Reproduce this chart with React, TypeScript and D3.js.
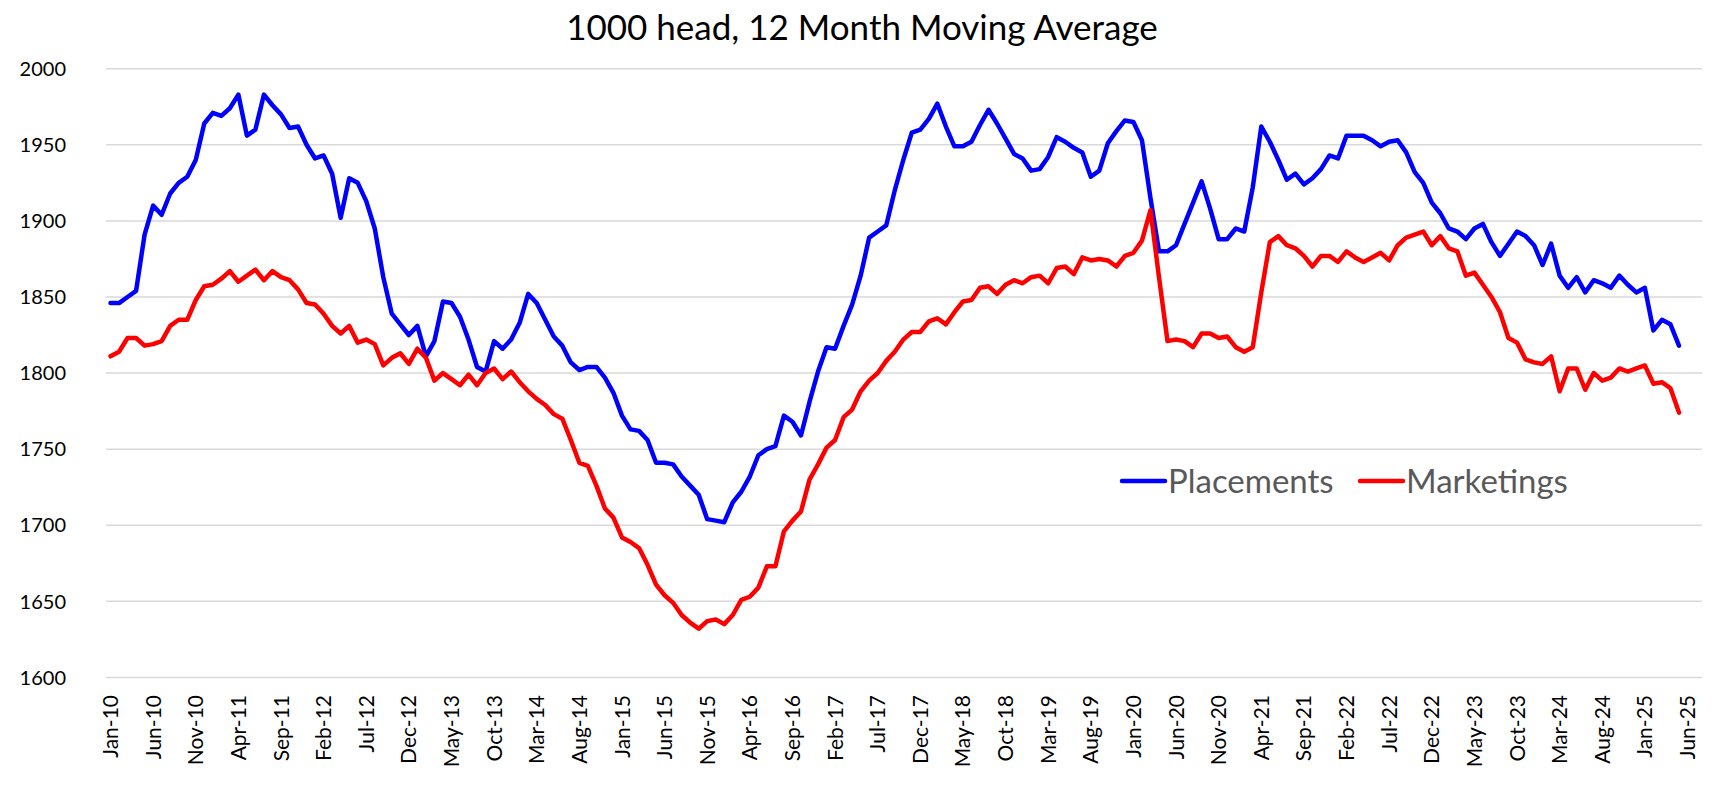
import { useEffect, useRef } from 'react'
import * as d3 from 'd3'

// 12 month moving average, 1000 head, monthly from Jan-10 to May-25
const placements = [
  1846, 1846, 1850, 1854, 1891, 1910, 1904, 1918, 1925, 1929, 1940, 1964,
  1971, 1969, 1974, 1983, 1956, 1960, 1983, 1976, 1970, 1961, 1962, 1950,
  1941, 1943, 1931, 1902, 1928, 1925, 1913, 1895, 1863, 1839, 1832, 1825,
  1831, 1811, 1821, 1847, 1846, 1837, 1822, 1804, 1801, 1821, 1816, 1822,
  1833, 1852, 1846, 1835, 1824, 1818, 1807, 1802, 1804, 1804, 1797, 1787,
  1772, 1763, 1762, 1756, 1741, 1741, 1740, 1732, 1726, 1720, 1704, 1703,
  1702, 1715, 1722, 1732, 1746, 1750, 1752, 1772, 1768, 1759, 1781, 1801,
  1817, 1816, 1831, 1845, 1864, 1889, 1893, 1897, 1920, 1940, 1958, 1960,
  1967, 1977, 1962, 1949, 1949, 1952, 1963, 1973, 1964, 1954, 1944, 1941,
  1933, 1934, 1942, 1955, 1952, 1948, 1945, 1929, 1933, 1951, 1959, 1966,
  1965, 1953, 1915, 1880, 1880, 1884, 1898, 1912, 1926, 1908, 1888, 1888,
  1895, 1893, 1922, 1962, 1952, 1940, 1927, 1931, 1924, 1928, 1934, 1943,
  1941, 1956, 1956, 1956, 1953, 1949, 1952, 1953, 1945, 1932, 1925, 1912,
  1905, 1895, 1893, 1888, 1895, 1898, 1886, 1877, 1885, 1893, 1890, 1884,
  1871, 1885, 1864, 1856, 1863, 1853, 1861, 1859, 1856, 1864, 1858, 1853,
  1856, 1828, 1835, 1832, 1818
]

const marketings = [
  1811, 1814, 1823, 1823, 1818, 1819, 1821, 1831, 1835, 1835, 1848, 1857,
  1858, 1862, 1867, 1860, 1864, 1868, 1861, 1867, 1863, 1861, 1855, 1846,
  1845, 1839, 1831, 1826, 1831, 1820, 1822, 1819, 1805, 1810, 1813, 1806,
  1816, 1810, 1795, 1800, 1796, 1792, 1799, 1792, 1800, 1803, 1796, 1801,
  1794, 1788, 1783, 1779, 1773, 1770, 1756, 1741, 1739, 1726, 1711, 1705,
  1692, 1689, 1685, 1674, 1661, 1654, 1649, 1641, 1636, 1632, 1637, 1638,
  1635, 1641, 1651, 1653, 1659, 1673, 1673, 1696, 1703, 1709, 1730, 1740,
  1751, 1756, 1771, 1776, 1788, 1795, 1800, 1808, 1814, 1822, 1827, 1827,
  1834, 1836, 1832, 1840, 1847, 1848, 1856, 1857, 1852, 1858, 1861, 1859,
  1863, 1864, 1859, 1869, 1870, 1865, 1876, 1874, 1875, 1874, 1870, 1877,
  1879, 1887, 1907, 1863, 1821, 1822, 1821, 1817, 1826, 1826, 1823, 1824,
  1817, 1814, 1817, 1853, 1886, 1890, 1884, 1882, 1877, 1870, 1877, 1877,
  1873, 1880, 1876, 1873, 1876, 1879, 1874, 1884, 1889, 1891, 1893, 1884,
  1890, 1882, 1880, 1864, 1866, 1858, 1850, 1840, 1823, 1820, 1809, 1807,
  1806, 1811, 1788, 1803, 1803, 1789, 1800, 1795, 1797, 1803, 1801, 1803,
  1805, 1793, 1794, 1790, 1774
]

// one label every 5 months
const xTickLabels = [
  'Jan-10', 'Jun-10', 'Nov-10', 'Apr-11', 'Sep-11', 'Feb-12', 'Jul-12', 'Dec-12',
  'May-13', 'Oct-13', 'Mar-14', 'Aug-14', 'Jan-15', 'Jun-15', 'Nov-15', 'Apr-16',
  'Sep-16', 'Feb-17', 'Jul-17', 'Dec-17', 'May-18', 'Oct-18', 'Mar-19', 'Aug-19',
  'Jan-20', 'Jun-20', 'Nov-20', 'Apr-21', 'Sep-21', 'Feb-22', 'Jul-22', 'Dec-22',
  'May-23', 'Oct-23', 'Mar-24', 'Aug-24', 'Jan-25', 'Jun-25'
]

const yTicks = [1600, 1650, 1700, 1750, 1800, 1850, 1900, 1950, 2000]

const seriesNames = ['Placements', 'Marketings']
const seriesColors = ['#0000FF', '#FF0000']

const FONT = 'Lato, "Open Sans", sans-serif'

function MovingAverageChart({ width = 1724, height = 794 }) {
  const svgRef = useRef<SVGSVGElement>(null)

  useEffect(() => {
    if (!svgRef.current) return
    const svg = d3.select(svgRef.current)
    svg.selectAll('*').remove()

    const plot = { left: 106, right: 1702, top: 68.7, bottom: 677.4 }

    const x = d3.scaleLinear()
      .domain([0, (xTickLabels.length - 1) * 5])
      .range([110.5, 1687.5])

    const y = d3.scaleLinear()
      .domain([1600, 2000])
      .range([plot.bottom, plot.top])

    // Gridlines
    yTicks.forEach(t => {
      svg.append('line')
        .attr('x1', plot.left)
        .attr('x2', plot.right)
        .attr('y1', y(t))
        .attr('y2', y(t))
        .style('stroke', '#D9D9D9')
        .style('stroke-width', '1.5px')
    })

    // Y labels
    yTicks.forEach(t => {
      svg.append('text')
        .attr('x', 66)
        .attr('y', y(t))
        .attr('dy', '0.36em')
        .attr('text-anchor', 'end')
        .style('fill', '#000')
        .style('font-size', '20px')
        .style('font-family', FONT)
        .text(t)
    })

    // X labels, rotated
    xTickLabels.forEach((label, i) => {
      svg.append('text')
        .attr('transform', `translate(${x(i * 5)},695) rotate(-90)`)
        .attr('dy', '0.36em')
        .attr('text-anchor', 'end')
        .style('fill', '#000')
        .style('font-size', '21px')
        .style('font-family', FONT)
        .text(label)
    })

    // Lines
    const line = d3.line<number>()
      .x((_, i) => x(i))
      .y(d => y(d))

    ;[placements, marketings].forEach((values, s) => {
      svg.append('path')
        .datum(values)
        .attr('d', line)
        .style('fill', 'none')
        .style('stroke', seriesColors[s])
        .style('stroke-width', '4.5px')
        .style('stroke-linejoin', 'round')
        .style('stroke-linecap', 'round')
    })

    // Title
    svg.append('text')
      .attr('x', 862)
      .attr('y', 40)
      .attr('text-anchor', 'middle')
      .style('fill', '#000')
      .style('font-size', '35px')
      .style('font-family', FONT)
      .text('1000 head, 12 Month Moving Average')

    // Legend
    const legendItems = [
      { name: seriesNames[0], color: seriesColors[0], x: 1122 },
      { name: seriesNames[1], color: seriesColors[1], x: 1360 }
    ]
    legendItems.forEach(item => {
      svg.append('line')
        .attr('x1', item.x)
        .attr('x2', item.x + 43)
        .attr('y1', 481)
        .attr('y2', 481)
        .style('stroke', item.color)
        .style('stroke-width', '4.5px')
        .style('stroke-linecap', 'round')

      svg.append('text')
        .attr('x', item.x + 46)
        .attr('y', 481)
        .attr('dy', '0.36em')
        .style('fill', '#595959')
        .style('font-size', '33px')
        .style('font-family', FONT)
        .text(item.name)
    })
  }, [width, height])

  return (
    <svg
      ref={svgRef}
      width={width}
      height={height}
      style={{ position: 'absolute', left: 0, top: 0, display: 'block', background: '#fff' }}
    />
  )
}

export default function App() {
  return <MovingAverageChart />
}
